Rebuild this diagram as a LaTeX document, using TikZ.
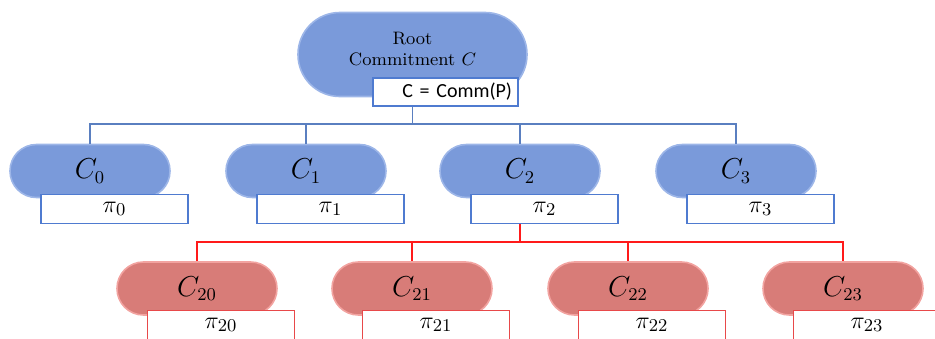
\documentclass[tikz,border=0pt]{standalone}
\usepackage{fontspec}
\newfontfamily\calib{Carlito}
\usepackage{xcolor}
\usepackage{tikz}
\usetikzlibrary{positioning}

\definecolor{pillblue}{HTML}{7A9ADA}
\definecolor{rimblue}{HTML}{9DB6E8}
\definecolor{pillred}{HTML}{D87C78}
\definecolor{rimred}{HTML}{F2A3A0}
\definecolor{tagblue}{HTML}{4F7BD0}
\definecolor{tagred}{HTML}{E8494A}
\definecolor{linkblue}{HTML}{5A7FC0}
\definecolor{linkred}{HTML}{FF1A1A}

\begin{document}
\begin{tikzpicture}[
  x=0.5pt, y=-0.5pt,
  pill/.style={rectangle, rounded corners=13.2pt, fill=pillblue, draw=rimblue,
    line width=0.8pt, minimum width=80pt, minimum height=26.5pt, inner sep=0pt,
    font=\fontsize{13.5}{15}\selectfont},
  redpill/.style={pill, fill=pillred, draw=rimred},
  tag/.style={draw=tagblue, fill=white, line width=0.6pt, minimum width=73.5pt,
    minimum height=14.5pt, inner sep=0pt, font=\fontsize{12.5}{14}\selectfont},
  redtag/.style={tag, draw=tagred},
  link/.style={draw=linkblue, line width=0.6pt},
  redlink/.style={draw=linkred, line width=0.7pt}
]
\clip (0,0) rectangle (935,338);

% root of the tree
\node[pill, rounded corners=20.9pt, minimum width=114.5pt, minimum height=42pt,
  align=center, text depth=6pt, font=\fontsize{9}{10.5}\selectfont] (root)
  at (412.5,54.5) {Root\\Commitment $C$};
\node[tag, below=-10pt of root, xshift=16.5pt, minimum width=72.5pt,
  minimum height=14pt, text width=66.5pt, align=right, inner xsep=3pt,
  font=\calib\fontsize{10}{12}\selectfont] (rtag) {C = Comm(P)};

% first level
\node[pill] (c0) at (90,171) {$C_0$};
\node[pill] (c1) at (306,171) {$C_1$};
\node[pill] (c2) at (520,171) {$C_2$};
\node[pill] (c3) at (736,171) {$C_3$};
\node[tag, below=-2.2pt of c0, xshift=12.25pt] (p0) {$\pi_0$};
\node[tag, below=-2.2pt of c1, xshift=12.25pt] (p1) {$\pi_1$};
\node[tag, below=-2.2pt of c2, xshift=12.25pt] (p2) {$\pi_2$};
\node[tag, below=-2.2pt of c3, xshift=12.25pt] (p3) {$\pi_3$};

% children of C_2
\node[redpill] (c20) at (197,288.5) {$C_{20}$};
\node[redpill] (c21) at (412,288.5) {$C_{21}$};
\node[redpill] (c22) at (628,288.5) {$C_{22}$};
\node[redpill] (c23) at (843,288.5) {$C_{23}$};
\node[redtag, below=-3pt of c20, xshift=12pt] (p20) {$\pi_{20}$};
\node[redtag, below=-3pt of c21, xshift=12pt] (p21) {$\pi_{21}$};
\node[redtag, below=-3pt of c22, xshift=12pt] (p22) {$\pi_{22}$};
\node[redtag, below=-3pt of c23, xshift=12pt] (p23) {$\pi_{23}$};

% connectors
\coordinate (bbus) at (412.5,124);
\coordinate (rbus) at (520,242);
\draw[link] (root.south |- rtag.south) -- (bbus);
\draw[link] (bbus) -| (c0.north);
\draw[link] (bbus) -| (c1.north);
\draw[link] (bbus) -| (c2.north);
\draw[link] (bbus) -| (c3.north);
\draw[redlink] (c2.south |- p2.south) -- (rbus);
\draw[redlink] (rbus) -| (c20.north);
\draw[redlink] (rbus) -| (c21.north);
\draw[redlink] (rbus) -| (c22.north);
\draw[redlink] (rbus) -| (c23.north);
\end{tikzpicture}
\end{document}
